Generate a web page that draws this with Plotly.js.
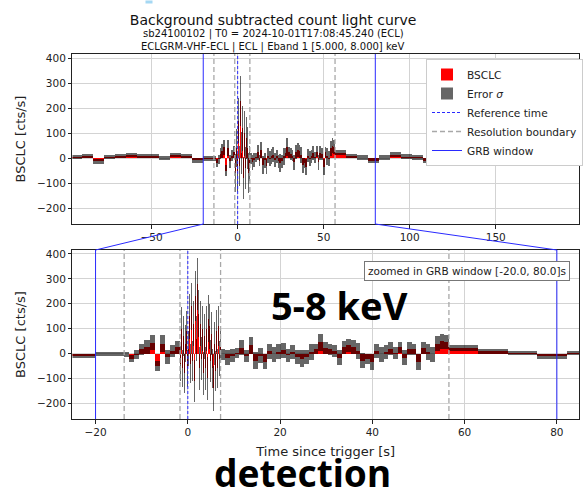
<!DOCTYPE html>
<html><head><meta charset="utf-8">
<script src="https://cdn.plot.ly/plotly-3.0.1.min.js"></script>
<style>html,body{margin:0;padding:0;background:#fff;} #chart{width:583px;height:491px;}</style>
</head><body><div id="chart"></div>
<script>
// ---- data ----
const dataStart = -97.0;
const resolutionBoundaries = [-13.8, -1.7, 7.1, 56.6];
const dataEnd = 197.4;
const referenceTime = 0;
const grbWindow = [-20, 80];

// coarse bins before first boundary
const seg1Val = [4, 8, -13, 4, 7, 11, 8, 8, -1, 11, 7, -9, -2];
const seg1Err = [8, 8, 10, 8, 8, 8, 8, 8, 8, 8, 8, 9, 9];
// medium bins
const seg2Val = [-3, -20, -5, 18, 28, 43, -50, 40, -13, 10, 25];
const seg2Err = [10, 15, 18, 22, 28, 30, 22, 33, 27, 23, 25];
// fine bins (burst)
const seg3Val = [-40, 100, -60, 70, -80, 40, -50, 90, -60, 20,
                 150, -40, 190, -30, 120, -110, 230, 60, 280, 20,
                 160, -60, 120, -20, 100, -80, 70, -60, 100, -100,
                 140, -40, 110, -30, 80, -60, -140, 40, -70, 90,
                 -60, 110, -20, 30];
const seg3Err = [70, 85, 75, 80, 80, 75, 70, 80, 75, 70,
                 90, 80, 95, 80, 90, 85, 100, 90, 105, 85,
                 95, 85, 90, 85, 90, 85, 90, 85, 90, 85,
                 95, 85, 90, 85, 85, 80, 90, 85, 80, 85,
                 80, 80, 70, 60];
// medium bins after burst
const seg4Val = [-2, -17, -8, 3, 23, -10, 33, -28, -8, -33,
                 10, -3, 7, 13, -7, 7, -13, -20, -13, 7,
                 20, 45, 23, 17, 10, -17, 25, 33, 27, 12,
                 -28, -20, -35, 10, -3, 7, 20, 3, 25, -17,
                 20, 17, -35, 23, 7, -3, 40, 50, 45];
const seg4Err = [22, 30, 27, 19, 30, 23, 33, 35, 30, 30,
                 30, 30, 30, 30, 27, 27, 27, 35, 27, 33,
                 20, 35, 23, 23, 23, 30, 27, 27, 27, 32,
                 30, 20, 32, 27, 30, 27, 27, 23, 22, 30,
                 27, 23, 32, 23, 33, 30, 30, 30, 28];
// coarse bins after last boundary
const seg5Val = [22, 9, 2, -10, 2, 13, 6, 3, -10, 0, 13, -6, 6, 0, 15, 9, 6, 3, -9, 1, -11, 9];
const seg5Err = [11, 9, 9, 10, 9, 10, 9, 9, 10, 9, 10, 9, 9, 9, 10, 9, 9, 9, 10, 9, 10, 9];

const titleText = 'Background subtracted count light curve';
const subtitle1 = 'sb24100102 | T0 = 2024-10-01T17:08:45.240 (ECL)';
const subtitle2 = 'ECLGRM-VHF-ECL | ECL | Eband 1 [5.000, 8.000] keV';

// ---- build bins ----
const edges = [dataStart, ...resolutionBoundaries, dataEnd];
const segVals = [seg1Val, seg2Val, seg3Val, seg4Val, seg5Val];
const segErrs = [seg1Err, seg2Err, seg3Err, seg4Err, seg5Err];
const xc = [], wd = [], val = [], errLen = [], errBase = [];
segVals.forEach((vals, k) => {
  const w = (edges[k + 1] - edges[k]) / vals.length;
  vals.forEach((v, i) => {
    const e = segErrs[k][i];
    xc.push(edges[k] + (i + 0.5) * w);
    wd.push(w);
    val.push(v);
    errBase.push(v - e);
    errLen.push(2 * e);
  });
});

// ---- layout geometry ----
const W = 583, H = 491;
const xDom = [73 / W, 1];
const yDomTop = [1 - 224 / H, 1 - 54 / H];
const yDomBot = [1 - 419 / H, 1 - 250 / H];
const xRangeTop = [-96, 198.4];
const xRangeBot = [-25, 84.8];
const yRange = [-263, 416];
const toPX = (v, r, d) => d[0] + (v - r[0]) / (r[1] - r[0]) * (d[1] - d[0]);

const RED = '#ff0000';
const GRAY = 'rgba(0,0,0,0.6)';
const BLUE = '#2a2aff';
const DASHGRAY = '#a8a8a8';

function barTraces(xa, ya, legend) {
  return [
    {type: 'bar', x: xc, y: val, base: 0, width: wd, xaxis: xa, yaxis: ya,
     marker: {color: RED, line: {width: 0}}, name: 'BSCLC', legendgroup: 'bsclc', showlegend: legend},
    {type: 'bar', x: xc, y: errLen, base: errBase, width: wd, xaxis: xa, yaxis: ya,
     marker: {color: GRAY, line: {width: 0}}, name: 'Error <i>σ</i>', legendgroup: 'err', showlegend: legend}
  ];
}
function vline(xs, xa, ya, color, dash, width, name, group, legend) {
  const X = [], Y = [];
  xs.forEach(v => { X.push(v, v, null); Y.push(yRange[0], yRange[1], null); });
  return {type: 'scatter', mode: 'lines', x: X, y: Y, xaxis: xa, yaxis: ya,
          line: {color: color, dash: dash, width: width}, name: name, legendgroup: group,
          showlegend: legend, hoverinfo: 'skip'};
}

const traces = [
  ...barTraces('x', 'y', true),
  ...barTraces('x2', 'y2', false),
  vline([referenceTime], 'x', 'y', BLUE, '3px,2px', 1, 'Reference time', 'ref', true),
  vline(resolutionBoundaries, 'x', 'y', DASHGRAY, '5px,3px', 1.3, 'Resolution boundary', 'res', true),
  vline(grbWindow, 'x', 'y', BLUE, 'solid', 1, 'GRB window', 'grb', true),
  vline([referenceTime], 'x2', 'y2', BLUE, '3px,2px', 1, 'Reference time', 'ref', false),
  vline(resolutionBoundaries, 'x2', 'y2', DASHGRAY, '5px,3px', 1.3, 'Resolution boundary', 'res', false),
  vline(grbWindow, 'x2', 'y2', BLUE, 'solid', 1, 'GRB window', 'grb', false)
];

const axisCommon = {
  ticks: 'outside', ticklen: 3.5, tickwidth: 1, tickcolor: '#222',
  showline: true, linecolor: '#222', linewidth: 1, mirror: true,
  showgrid: true, gridcolor: '#d3d3d3', gridwidth: 1, zeroline: false,
  tickfont: {size: 10.5, color: '#222'}
};

// connector lines from the top axis GRB window to the zoomed axis
const shapes = grbWindow.map(v => ({
  type: 'line', xref: 'paper', yref: 'paper',
  x0: toPX(v, xRangeTop, xDom), y0: yDomTop[0],
  x1: toPX(v, xRangeBot, xDom), y1: yDomBot[1],
  line: {color: BLUE, width: 1}
}));

const annotations = [
  {text: subtitle1, xref: 'paper', yref: 'paper', x: 275 / W, y: 1 - 34.5 / H, showarrow: false,
   xanchor: 'center', yanchor: 'middle', font: {size: 10, color: '#111'}},
  {text: subtitle2, xref: 'paper', yref: 'paper', x: 275 / W, y: 1 - 46.5 / H, showarrow: false,
   xanchor: 'center', yanchor: 'middle', font: {size: 10, color: '#111'}},
  {text: `zoomed in GRB window [${grbWindow[0].toFixed(1)}, ${grbWindow[1].toFixed(1)}]s`,
   xref: 'paper', yref: 'paper', x: 574 / W, y: 1 - 261 / H, xanchor: 'right', yanchor: 'top',
   showarrow: false, bgcolor: 'white', bordercolor: '#777', borderwidth: 1, borderpad: 3,
   font: {size: 10.5, color: '#222'}},
  {text: '<b>5-8 keV</b>', xref: 'paper', yref: 'paper', x: 342 / W, y: 1 - 305 / H,
   xanchor: 'center', yanchor: 'middle', showarrow: false,
   font: {family: 'Noto Sans', size: 38, color: '#000'}},
  {text: '<b>detection</b>', xref: 'paper', yref: 'paper', x: 305 / W, y: 1 - 472 / H,
   xanchor: 'center', yanchor: 'middle', showarrow: false,
   font: {family: 'Noto Sans', size: 37, color: '#000'}},
  {text: ' ', xref: 'paper', yref: 'paper', x: 150 / W, y: 1, xanchor: 'center', yanchor: 'top',
   showarrow: false, bgcolor: '#a5d8f3', width: 6, height: 2, borderpad: 0, font: {size: 1}}
];

const layout = {
  width: W, height: H, margin: {l: 0, r: 0, t: 0, b: 0},
  paper_bgcolor: 'white', plot_bgcolor: 'white',
  font: {family: 'DejaVu Sans', size: 10.5, color: '#222'},
  barmode: 'overlay', bargap: 0,
  title: {text: titleText, font: {size: 14, color: '#111'}, xref: 'paper', yref: 'paper',
          x: 275 / W, xanchor: 'center', y: 1 - 20 / H, yanchor: 'middle'},
  showlegend: true,
  legend: {x: 429 / W, y: 1 - 59 / H, xanchor: 'left', yanchor: 'top', bgcolor: 'white',
           bordercolor: '#cccccc', borderwidth: 1, font: {size: 10.6, color: '#222'},
           traceorder: 'normal', itemwidth: 30, tracegroupgap: 0},
  xaxis: Object.assign({}, axisCommon, {domain: xDom, range: xRangeTop, anchor: 'y', tick0: 0, dtick: 50}),
  yaxis: Object.assign({}, axisCommon, {domain: yDomTop, range: yRange, anchor: 'x', tick0: 0, dtick: 100,
          title: {text: 'BSCLC [cts/s]', font: {size: 13, color: '#222'}, standoff: 8}}),
  xaxis2: Object.assign({}, axisCommon, {domain: xDom, range: xRangeBot, anchor: 'y2', tick0: 0, dtick: 20,
          title: {text: 'Time since trigger [s]', font: {size: 13, color: '#222'}, standoff: 9}}),
  yaxis2: Object.assign({}, axisCommon, {domain: yDomBot, range: yRange, anchor: 'x2', tick0: 0, dtick: 100,
          title: {text: 'BSCLC [cts/s]', font: {size: 13, color: '#222'}, standoff: 8}}),
  shapes: shapes,
  annotations: annotations
};

Plotly.newPlot('chart', traces, layout, {staticPlot: true, displayModeBar: false});
</script>
</body></html>
